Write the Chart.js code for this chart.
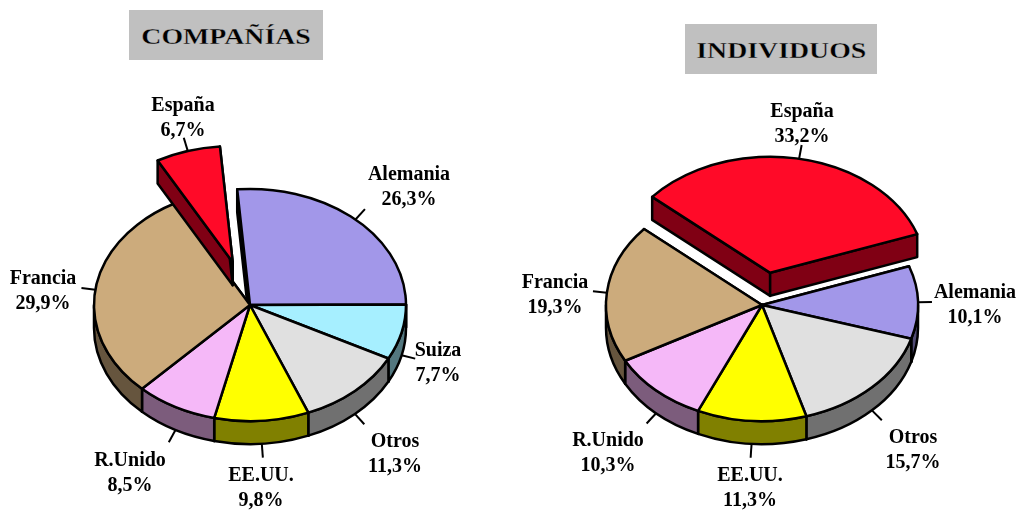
<!DOCTYPE html>
<html>
<head>
<meta charset="utf-8">
<title>Compañías / Individuos</title>
<script src="https://cdn.jsdelivr.net/npm/chart.js@4/dist/chart.umd.js"></script>
<style>
html, body { margin: 0; padding: 0; background: #fff; }
#page { position: relative; width: 1018px; height: 512px; overflow: hidden; }
canvas { position: absolute; top: 0; }
.title {
    position: absolute; height: 50px; background: #c0c0c0;
    text-align: center; font: bold 23px/54px "Liberation Serif", serif; color: #000;
    -webkit-text-stroke: 0.3px #c0c0c0;
}
.title span { display: inline-block; transform: scaleX(1.21); }
</style>
</head>
<body>
<div id="page">
    <div class="title" style="left:129px;top:10px;width:194px"><span>COMPAÑÍAS</span></div>
    <div class="title" style="left:685px;top:24px;width:192px"><span>INDIVIDUOS</span></div>
    <canvas id="companias" width="509" height="512" style="left:0"></canvas>
    <canvas id="individuos" width="509" height="512" style="left:509px"></canvas>
</div>
<script>
// the exploded slice goes last so it is painted over its neighbours
var companias_labels = ['Alemania', 'Suiza', 'Otros', 'EE.UU.', 'R.Unido', 'Francia', 'España'];
var companias_values = [26.3, 7.7, 11.3, 9.8, 8.5, 29.9, 6.7];
var companias_colors = ['#a297e9', '#a6efff', '#e0e0e0', '#ffff00', '#f5b8f8', '#ccab7c', '#ff0a28'];
var companias_sides = ['#514b74', '#53777f', '#707070', '#808000', '#7c5c7c', '#66553e', '#800014'];
var companias_explode = [0, 0, 0, 0, 0, 0, 60];
var companias_text_x = [409, 438, 395, 261, 130, 43, 183];
var companias_text_y = [173, 349, 440, 474, 459, 277, 104];

var individuos_labels = ['Alemania', 'Otros', 'EE.UU.', 'R.Unido', 'Francia', 'España'];
var individuos_values = [10.1, 15.7, 11.3, 10.3, 19.3, 33.2];
var individuos_colors = ['#a297e9', '#e0e0e0', '#ffff00', '#f5b8f8', '#ccab7c', '#ff0a28'];
var individuos_sides = ['#514b74', '#707070', '#808000', '#7c5c7c', '#66553e', '#800014'];
var individuos_explode = [0, 0, 0, 0, 0, 44];
var individuos_text_x = [975, 913, 750, 608, 555, 802];
var individuos_text_y = [291, 436, 474, 439, 281, 110];

var tilt = 0.744;
var depth = 23;
var leader = 14;
var line_width = 2.5;

function screen_center(arc)
{
    return { x: arc.x, y: arc.pivot_y + (arc.y - arc.pivot_y) * tilt };
}

function paint(ctx, fill)
{
    ctx.fillStyle = fill;
    ctx.strokeStyle = '#000';
    ctx.lineWidth = line_width;
    ctx.lineJoin = 'round';
    ctx.fill();
    ctx.stroke();
}

function draw_radial_walls(ctx, arc)
{
    var c = screen_center(arc);
    var r = arc.outerRadius;

    [arc.startAngle, arc.endAngle].forEach(function(a) {
        ctx.beginPath();
        ctx.moveTo(c.x, c.y);
        ctx.lineTo(c.x + Math.cos(a) * r, c.y + Math.sin(a) * r * tilt);
        ctx.lineTo(c.x + Math.cos(a) * r, c.y + Math.sin(a) * r * tilt + depth);
        ctx.lineTo(c.x, c.y + depth);
        ctx.closePath();
        paint(ctx, arc.side_color);
    });
}

// only the front half of the rim can be seen
function draw_rim(ctx, arc)
{
    var c = screen_center(arc);
    var r = arc.outerRadius;
    var tau = Math.PI * 2;

    for (var k = -1; k <= 1; k++) {
        var a0 = Math.max(arc.startAngle, k * tau);
        var a1 = Math.min(arc.endAngle, k * tau + Math.PI);
        if (a1 <= a0)
            continue;
        ctx.beginPath();
        ctx.ellipse(c.x, c.y, r, r * tilt, 0, a0, a1);
        ctx.ellipse(c.x, c.y + depth, r, r * tilt, 0, a1, a0, true);
        ctx.closePath();
        paint(ctx, arc.side_color);
    }
}

class Arc3D extends Chart.ArcElement
{
    static id = 'arc3d';

    draw(ctx)
    {
        if (this.exploded) {
            draw_rim(ctx, this);
            draw_radial_walls(ctx, this);
        }

        // let the library fill the slice in the squashed space
        ctx.save();
        ctx.translate(0, this.pivot_y);
        ctx.scale(1, tilt);
        ctx.translate(0, -this.pivot_y);
        super.draw(ctx);
        ctx.restore();

        // outline outside the transform, so the line keeps its width
        var c = screen_center(this);
        ctx.beginPath();
        ctx.moveTo(c.x, c.y);
        ctx.ellipse(c.x, c.y, this.outerRadius, this.outerRadius * tilt, 0, this.startAngle, this.endAngle);
        ctx.closePath();
        ctx.strokeStyle = '#000';
        ctx.lineWidth = line_width;
        ctx.lineJoin = 'round';
        ctx.stroke();
    }
}

class Pie3D extends Chart.PieController
{
    static id = 'pie3d';
    static defaults = Object.assign({}, Chart.PieController.defaults, { dataElementType: 'arc3d' });
}

Chart.register(Arc3D, Pie3D);

var pie3d_plugin = {
    id: 'pie3d_plugin',
    afterDatasetsUpdate: function(chart, args, opts) {
        var arcs = chart.getDatasetMeta(0).data;
        arcs.forEach(function(arc, i) {
            var mid = (arc.startAngle + arc.endAngle) / 2;
            arc.pivot_y = arc.y;
            arc.side_color = opts.sides[i];
            arc.exploded = opts.explode[i] > 0;
            arc.x += Math.cos(mid) * opts.explode[i];
            arc.y += Math.sin(mid) * opts.explode[i];
        });
    },
    beforeDatasetsDraw: function(chart) {
        var arcs = chart.getDatasetMeta(0).data.filter(function(arc) { return !arc.exploded; });
        arcs.forEach(function(arc) { draw_radial_walls(chart.ctx, arc); });
        arcs.forEach(function(arc) { draw_rim(chart.ctx, arc); });
    },
    afterDatasetsDraw: function(chart, args, opts) {
        var ctx = chart.ctx;
        var values = chart.data.datasets[0].data;
        chart.getDatasetMeta(0).data.forEach(function(arc, i) {
            var mid = (arc.startAngle + arc.endAngle) / 2;
            var c = screen_center(arc);
            var x = c.x + Math.cos(mid) * arc.outerRadius;
            var y = c.y + Math.sin(mid) * arc.outerRadius * tilt;
            if (Math.sin(mid) > 0)
                y += depth;
            ctx.beginPath();
            ctx.moveTo(x, y);
            ctx.lineTo(x + Math.cos(mid) * leader, y + Math.sin(mid) * leader);
            ctx.strokeStyle = '#000';
            ctx.lineWidth = 2;
            ctx.stroke();

            ctx.fillStyle = '#000';
            ctx.font = 'bold 20px "Liberation Serif", serif';
            ctx.textAlign = 'center';
            ctx.textBaseline = 'middle';
            ctx.fillText(chart.data.labels[i], opts.text_x[i] - opts.left, opts.text_y[i] + 2);
            ctx.fillText(values[i].toFixed(1).replace('.', ',') + '%', opts.text_x[i] - opts.left, opts.text_y[i] + 27);
        });
    }
};

function make_pie(id, labels, values, colors, sides, explode, text_x, text_y, rotation, left, pad_right)
{
    return new Chart(document.getElementById(id), {
        type: 'pie3d',
        data: {
            labels: labels,
            datasets: [{ data: values, backgroundColor: colors, borderWidth: 0, hoverOffset: 0 }]
        },
        options: {
            responsive: false,
            animation: false,
            events: [],
            rotation: rotation,
            radius: 156,
            layout: { padding: { top: 98, right: pad_right } },
            plugins: {
                legend: { display: false },
                tooltip: { enabled: false },
                pie3d_plugin: { sides: sides, explode: explode, text_x: text_x, text_y: text_y, left: left }
            }
        },
        plugins: [pie3d_plugin]
    });
}

window.addEventListener('load', function()
{
    make_pie('companias', companias_labels, companias_values, companias_colors, companias_sides,
        companias_explode, companias_text_x, companias_text_y, -4.7, 0, 9);
    make_pie('individuos', individuos_labels, individuos_values, individuos_colors, individuos_sides,
        individuos_explode, individuos_text_x, individuos_text_y, 70.5, 509, 3);
});
</script>
</body>
</html>
